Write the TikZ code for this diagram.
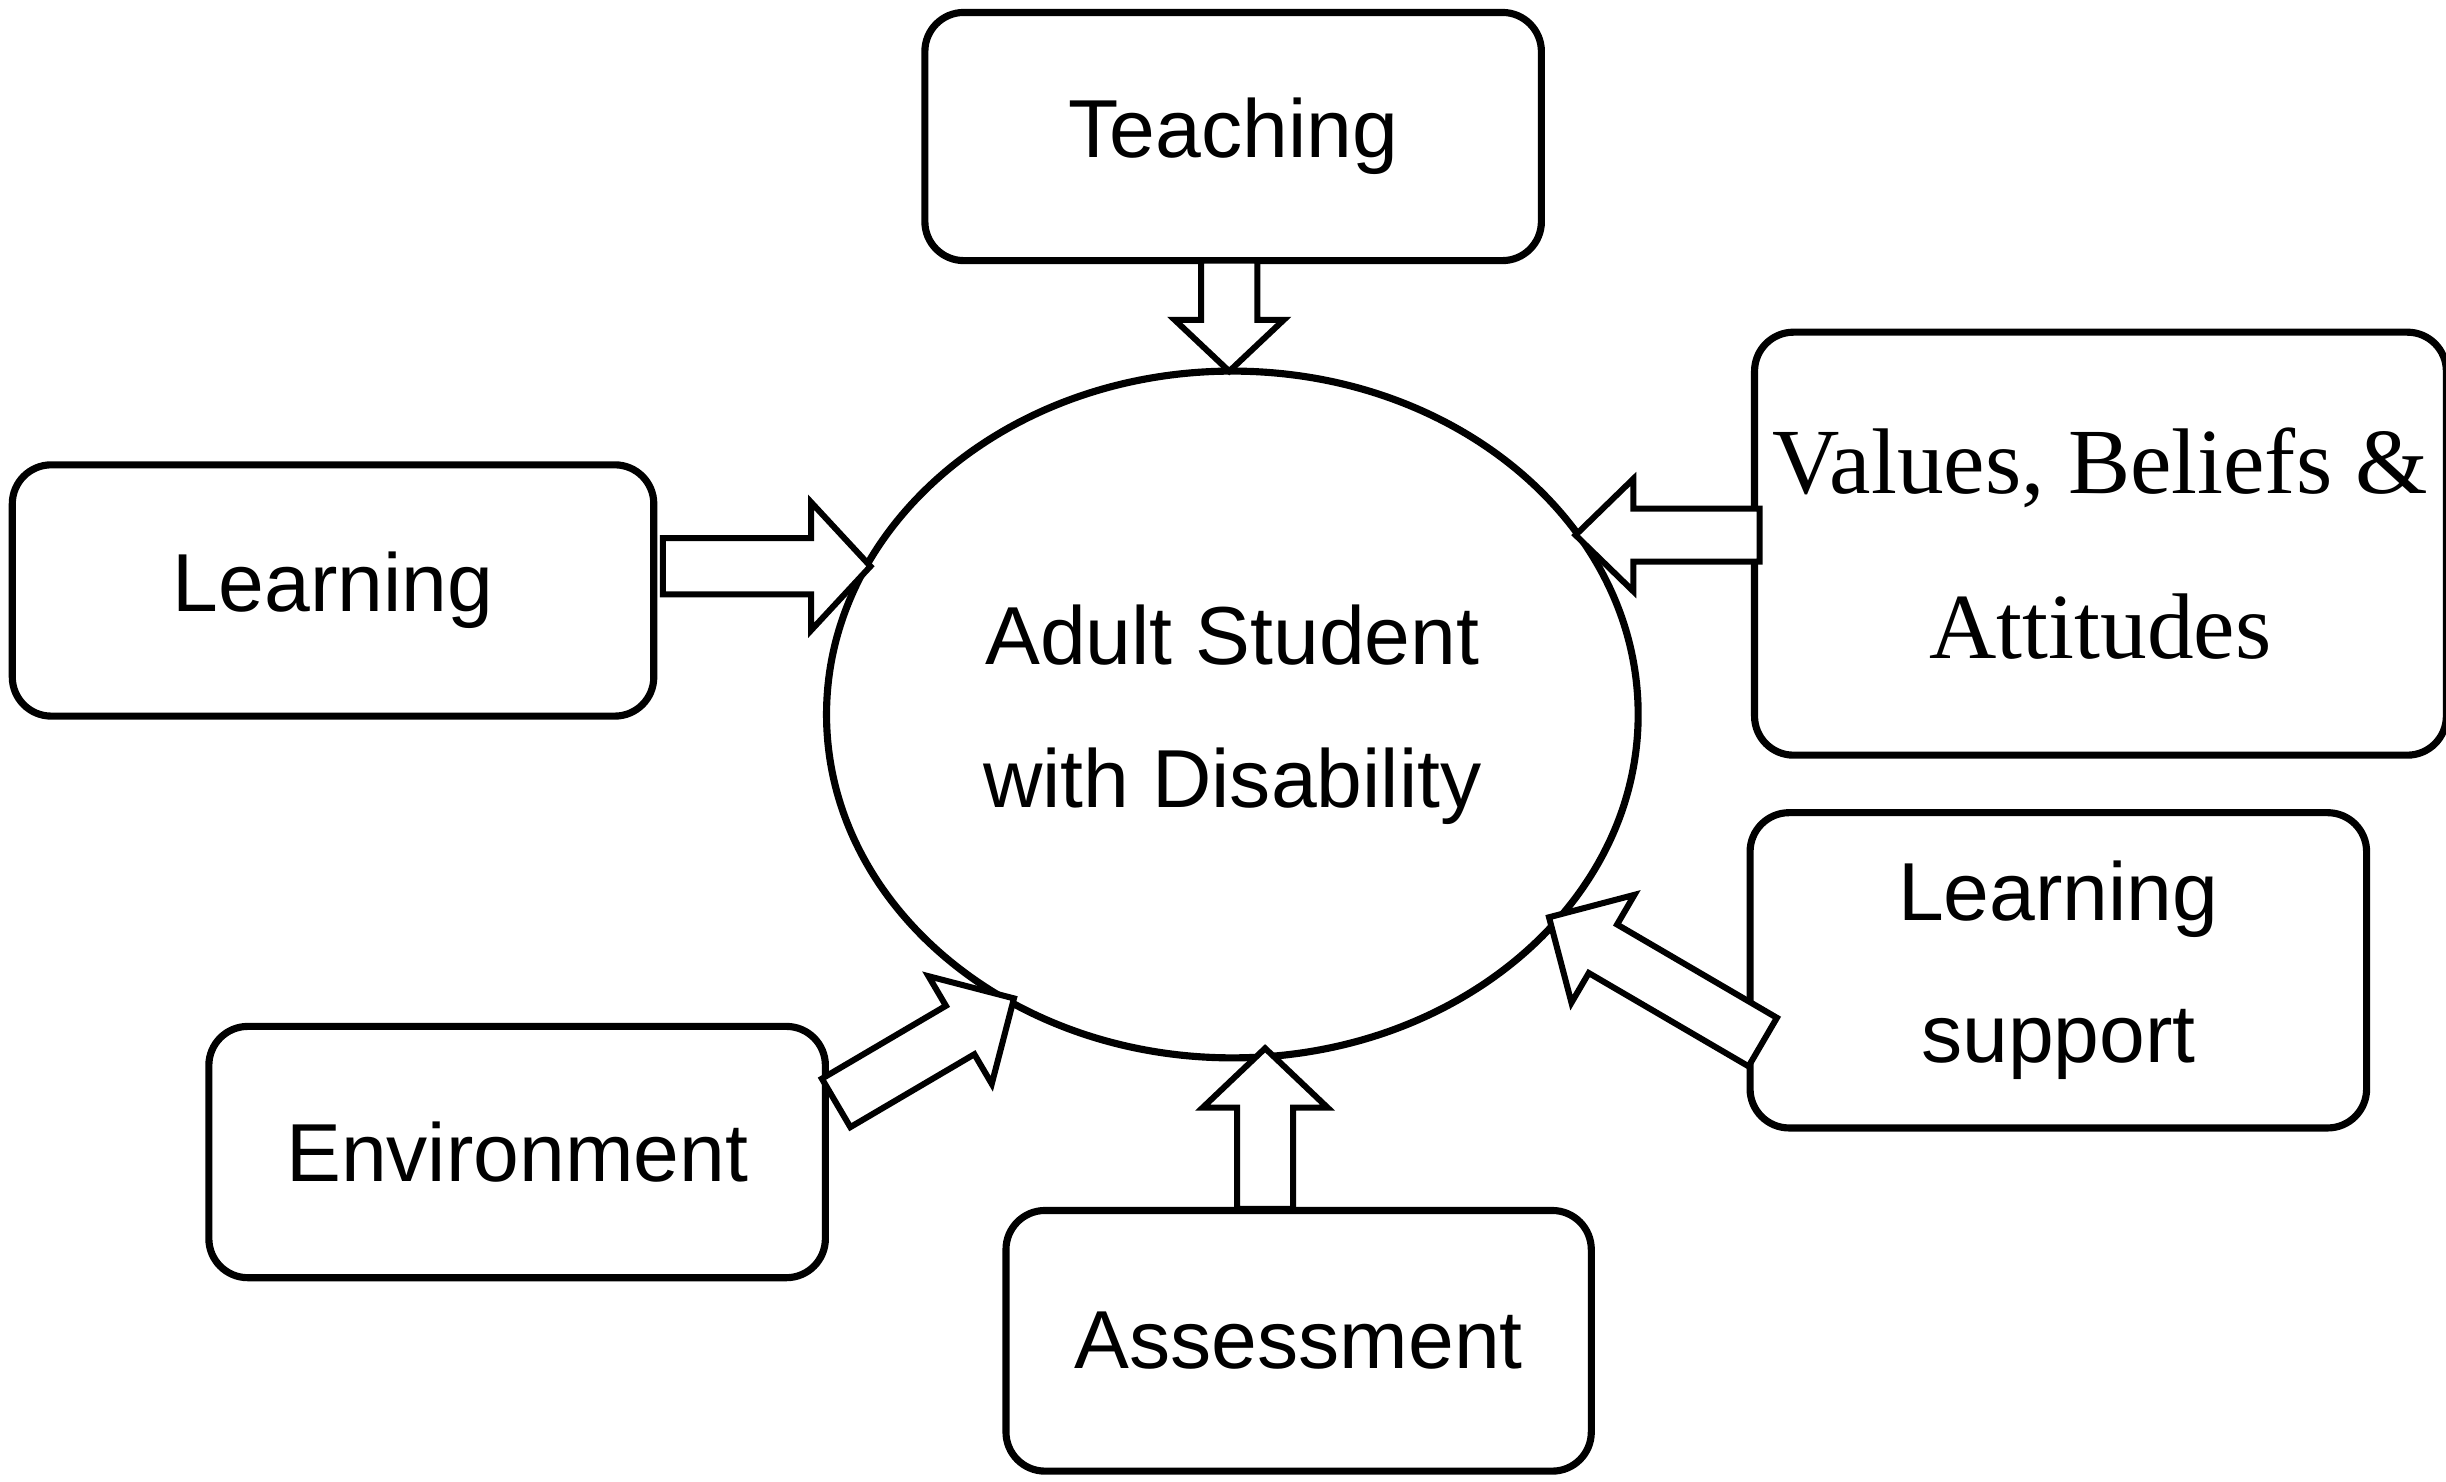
\documentclass[tikz,border=0pt]{standalone}
\usepackage{fontspec}
\setmainfont{Liberation Sans}
\newfontfamily\serifv{Liberation Serif}
\usetikzlibrary{calc,shapes.geometric}
\tikzset{
 box/.style={draw,line width=1.3pt,rounded corners=0.25cm,align=center,font=\fontsize{15}{26}\selectfont},
 arr/.style={draw,line width=1.1pt,fill=white}
}
\newcommand\barrow[5]{%
 \coordinate (bh) at ($(#2)!#5!(#1)$);
 \draw[arr] ($(#1)!#3!90:(#2)$) -- ($(bh)!#3!90:(#2)$) -- ($(bh)!#4!90:(#2)$) -- (#2)
  -- ($(bh)!#4!-90:(#2)$) -- ($(bh)!#3!-90:(#2)$) -- ($(#1)!#3!-90:(#2)$) -- cycle;}
\begin{document}
\begin{tikzpicture}[x=0.01cm,y=-0.01cm]
\useasboundingbox (0,0) rectangle (1568,950);
\node[box,minimum width=3.95cm,minimum height=1.59cm] (teach) at (790.5,87.5) {Teaching};
\node[box,minimum width=4.31cm,minimum height=2.71cm,font=\serifv\fontsize{17}{30}\selectfont] (val) at (1346.5,348.5) {Values, Beliefs \&\\Attitudes};
\node[box,minimum width=4.11cm,minimum height=1.61cm] (learn) at (213.5,378.5) {Learning};
\node[box,minimum width=3.95cm,minimum height=2.02cm] (ls) at (1319.5,622) {Learning\\support};
\node[box,minimum width=3.95cm,minimum height=1.61cm] (env) at (331.5,738.5) {Environment};
\node[box,minimum width=3.75cm,minimum height=1.67cm] (ass) at (832.5,859.5) {Assessment};
\node[draw,line width=1.3pt,ellipse,minimum width=5.2cm,minimum height=4.4cm,align=center,font=\fontsize{15}{26}\selectfont] (stu) at (790,458) {Adult Student\\with Disability};
\coordinate (a1s) at (788,167); \coordinate (a1t) at (788,238);
\coordinate (a2s) at (425,363); \coordinate (a2t) at (558,363);
\coordinate (a3s) at (1128,343); \coordinate (a3t) at (1010,343);
\coordinate (a4s) at (811,775); \coordinate (a4t) at (811,672);
\coordinate (a5s) at (536,707); \coordinate (a5t) at (650,640);
\coordinate (a6s) at (1130,668); \coordinate (a6t) at (993,588);
\barrow{a1s}{a1t}{0.18cm}{0.35cm}{0.33cm}
\barrow{a2s}{a2t}{0.18cm}{0.41cm}{0.38cm}
\barrow{a3s}{a3t}{0.17cm}{0.36cm}{0.37cm}
\barrow{a4s}{a4t}{0.18cm}{0.40cm}{0.38cm}
\barrow{a5s}{a5t}{0.18cm}{0.40cm}{0.40cm}
\barrow{a6s}{a6t}{0.18cm}{0.40cm}{0.40cm}
\end{tikzpicture}
\end{document}
